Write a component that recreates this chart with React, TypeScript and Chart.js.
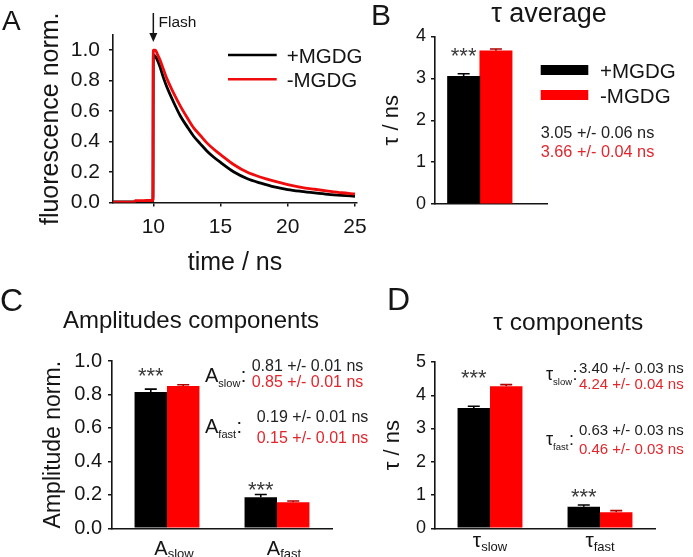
import React, { useEffect, useRef } from 'react';
import { Chart, registerables } from 'chart.js';

Chart.register(...registerables);

const FONT = '"Liberation Sans", Arial, Helvetica, sans-serif';
const INK = '#151515';
const BAR_RED = '#ff0000';
const LINE_RED = '#f00c0c';
const TEXT_RED = '#e2262c';
const ERR_RED = '#b00000';

// ---------- Panel A : fluorescence decay traces ----------
const seriesNames = ['+MGDG', '-MGDG'];
const decayTime = [7, 8, 8.6, 8.65, 9.0, 9.5, 9.97, 10.0, 10.15, 10.3, 10.5, 10.75, 11, 11.5, 12, 12.5, 13, 13.5, 14, 14.5, 15, 16, 17, 18, 19, 20, 21, 22, 23, 24, 25];
const decayPlus = [0.004, 0.004, 0.004, 0.004, 0.005, 0.005, 0.006, 0.97, 0.96, 0.935, 0.89, 0.82, 0.76, 0.66, 0.57, 0.5, 0.435, 0.385, 0.337, 0.297, 0.263, 0.2, 0.156, 0.127, 0.102, 0.085, 0.073, 0.063, 0.054, 0.047, 0.041];
const decayMinus = [0.002, 0.002, 0.002, 0.012, 0.012, 0.013, 0.013, 1.0, 1.0, 0.975, 0.935, 0.875, 0.815, 0.72, 0.635, 0.56, 0.49, 0.44, 0.39, 0.35, 0.315, 0.248, 0.198, 0.166, 0.14, 0.118, 0.1, 0.087, 0.075, 0.064, 0.056];
const flashTime = 10;
const aYTicks = [0, 0.2, 0.4, 0.6, 0.8, 1.0];
const aXTicks = [10, 15, 20, 25];

// ---------- Panel B : average lifetime ----------
const avgPlus = [3.05];
const avgMinus = [3.66];
const avgErrPlus = [0.06];
const avgErrMinus = [0.04];
const avgStars = [3.68];
const avgNotes = ['3.05 +/- 0.06 ns', '3.66 +/- 0.04 ns'];
const bYTicks = [0, 1, 2, 3, 4];

// ---------- Panel C : amplitudes ----------
const compKeys = ['slow', 'fast'];
const ampPlus = [0.815, 0.185];
const ampMinus = [0.85, 0.155];
const ampErrPlus = [0.017, 0.017];
const ampErrMinus = [0.008, 0.008];
const ampStars = [0.943, 0.265];
const ampNotesPlus = ['0.81 +/- 0.01 ns', '0.19 +/- 0.01 ns'];
const ampNotesMinus = ['0.85 +/- 0.01 ns', '0.15 +/- 0.01 ns'];
const cYTicks = [0, 0.2, 0.4, 0.6, 0.8, 1.0];

// ---------- Panel D : lifetimes ----------
const tauPlus = [3.62, 0.65];
const tauMinus = [4.27, 0.48];
const tauErrPlus = [0.05, 0.05];
const tauErrMinus = [0.05, 0.05];
const tauStars = [4.68, 1.106];
const tauNotesPlus = ['3.40 +/- 0.03 ns', '0.63 +/- 0.03 ns'];
const tauNotesMinus = ['4.24 +/- 0.04 ns', '0.46 +/- 0.03 ns'];
const dYTicks = [0, 1, 2, 3, 4, 5];

const W = 693;
const H = 557;
const f = (s: number) => `${s}px ${FONT}`;

function text(ctx: CanvasRenderingContext2D, s: string, x: number, y: number, size: number, color = INK, align: CanvasTextAlign = 'left') {
  ctx.save();
  ctx.font = f(size);
  ctx.fillStyle = color;
  ctx.textAlign = align;
  ctx.textBaseline = 'alphabetic';
  ctx.fillText(s, x, y);
  const w = ctx.measureText(s).width;
  ctx.restore();
  return w;
}

function subText(ctx: CanvasRenderingContext2D, main: string, sub: string, x: number, y: number, mainSize: number, subSize: number, drop: number, align: 'left' | 'center' = 'left', colon = false) {
  ctx.save();
  ctx.font = f(mainSize);
  const wm = ctx.measureText(main).width;
  ctx.font = f(subSize);
  const ws = ctx.measureText(sub).width;
  ctx.restore();
  const x0 = align === 'center' ? x - (wm + ws) / 2 : x;
  text(ctx, main, x0, y, mainSize);
  text(ctx, sub, x0 + wm, y + drop, subSize);
  if (colon) text(ctx, ':', x0 + wm + ws + 0.5, y, mainSize);
  return x0 + wm + ws;
}

function stars(ctx: CanvasRenderingContext2D, x: number, yCenter: number, size = 22) {
  text(ctx, '***', x, yCenter + size * 0.58, size, '#3a3a3a', 'center');
}

function errorBars(chart: any, values: number[][], errs: number[][], colors: string[]) {
  const ctx = chart.ctx;
  const ys = chart.scales.y;
  values.forEach((vals, di) => {
    const meta = chart.getDatasetMeta(di);
    vals.forEach((v, j) => {
      const bar = meta.data[j];
      if (!bar) return;
      const base = ys.getPixelForValue(v);
      const top = ys.getPixelForValue(v + errs[di][j]);
      ctx.save();
      ctx.strokeStyle = colors[di];
      ctx.lineWidth = 1.6;
      ctx.beginPath();
      ctx.moveTo(bar.x, base);
      ctx.lineTo(bar.x, top);
      ctx.moveTo(bar.x - 6, top);
      ctx.lineTo(bar.x + 6, top);
      ctx.stroke();
      ctx.restore();
    });
  });
}

function yAxis(o: any) {
  return {
    min: o.min,
    max: o.max,
    afterBuildTicks: (s: any) => { s.ticks = o.ticks.map((v: number) => ({ value: v })); },
    afterFit: (s: any) => { s.width = o.width; },
    ticks: {
      font: { family: FONT, size: o.tickFont },
      color: INK,
      padding: o.tickPad,
      autoSkip: false,
      callback: (v: any) => Number(v).toFixed(o.decimals),
    },
    grid: { display: true, drawOnChartArea: false, drawTicks: true, tickLength: 4, color: INK, lineWidth: 1.5 },
    border: { display: true, color: INK, width: 1.6 },
    title: { display: true, text: o.title, font: { family: FONT, size: o.titleFont }, color: INK, padding: 0 },
  };
}

function flatX(extra: any = {}) {
  return {
    afterFit: (s: any) => { s.height = 0; },
    ticks: { display: false },
    grid: { display: false },
    border: { display: true, color: INK, width: 1.6 },
    ...extra,
  };
}

const baseOpts = {
  responsive: false,
  animation: false as const,
  devicePixelRatio: 1,
  events: [] as any[],
};

function configA(): any {
  return {
    type: 'line',
    data: {
      datasets: [
        {
          label: seriesNames[0],
          data: decayTime.map((t, i) => ({ x: t, y: decayPlus[i] })),
          borderColor: '#000',
          borderWidth: 2.8,
          pointRadius: 0,
          cubicInterpolationMode: 'monotone',
          order: 1,
        },
        {
          label: seriesNames[1],
          data: decayTime.map((t, i) => ({ x: t, y: decayMinus[i] })),
          borderColor: LINE_RED,
          borderWidth: 2.8,
          pointRadius: 0,
          cubicInterpolationMode: 'monotone',
          order: 0,
        },
      ],
    },
    options: {
      ...baseOpts,
      layout: { padding: { left: 36, top: 35, right: W - 357, bottom: 279 } },
      plugins: { legend: { display: false }, tooltip: { enabled: false } },
      scales: {
        x: {
          type: 'linear',
          min: 7,
          max: 25.15,
          afterBuildTicks: (s: any) => { s.ticks = aXTicks.map((v) => ({ value: v })); },
          afterFit: (s: any) => { s.height = 75.5; },
          ticks: { font: { family: FONT, size: 21 }, color: INK, padding: 8, maxRotation: 0, autoSkip: false, callback: (v: any) => String(v) },
          grid: { display: true, drawOnChartArea: false, drawTicks: true, tickLength: 4, color: INK, lineWidth: 1.5 },
          border: { display: true, color: INK, width: 1.6 },
          title: { display: true, text: 'time / ns', font: { family: FONT, size: 25 }, color: INK, padding: 0 },
        },
        y: yAxis({ min: 0, max: 1.1, ticks: aYTicks, width: 77, tickFont: 21, tickPad: 9, decimals: 1, title: 'fluorescence norm.', titleFont: 25 }),
      },
    },
    plugins: [
      {
        id: 'panelA',
        afterDraw(chart: any) {
          const ctx = chart.ctx;
          text(ctx, 'A', 2, 30, 28);
          const fx = chart.scales.x.getPixelForValue(flashTime);
          ctx.save();
          ctx.strokeStyle = INK;
          ctx.fillStyle = INK;
          ctx.lineWidth = 1.5;
          ctx.beginPath();
          ctx.moveTo(fx, 13);
          ctx.lineTo(fx, 36);
          ctx.stroke();
          ctx.beginPath();
          ctx.moveTo(fx - 4, 33);
          ctx.lineTo(fx + 4, 33);
          ctx.lineTo(fx, 42);
          ctx.closePath();
          ctx.fill();
          ctx.lineWidth = 2.6;
          ctx.strokeStyle = '#000';
          ctx.beginPath();
          ctx.moveTo(228, 55);
          ctx.lineTo(276.7, 55);
          ctx.stroke();
          ctx.strokeStyle = LINE_RED;
          ctx.beginPath();
          ctx.moveTo(228, 79.3);
          ctx.lineTo(276.7, 79.3);
          ctx.stroke();
          ctx.restore();
          text(ctx, 'Flash', 158.5, 27.3, 15.5);
          text(ctx, seriesNames[0], 286.7, 63.3, 20.5);
          text(ctx, seriesNames[1], 286.7, 86.7, 20.5);
        },
      },
    ],
  };
}

function configB(): any {
  return {
    type: 'bar',
    data: {
      datasets: [
        { label: seriesNames[0], data: avgPlus.map((v, i) => ({ x: i, y: v })), backgroundColor: '#000', barThickness: 32.3 },
        { label: seriesNames[1], data: avgMinus.map((v, i) => ({ x: i, y: v })), backgroundColor: BAR_RED, barThickness: 32.3 },
      ],
    },
    options: {
      ...baseOpts,
      layout: { padding: { left: 378.8, top: 36.5, right: W - 547, bottom: H - 204 } },
      plugins: { legend: { display: false }, tooltip: { enabled: false } },
      scales: {
        x: flatX({ type: 'linear', min: -0.4, max: 0.6, offset: false }),
        y: yAxis({ min: 0, max: 4, ticks: bYTicks, width: 435 - 378.8, tickFont: 18, tickPad: 5, decimals: 0, title: 'τ / ns', titleFont: 22 }),
      },
    },
    plugins: [
      {
        id: 'panelB',
        afterDatasetsDraw(chart: any) {
          errorBars(chart, [avgPlus, avgMinus], [avgErrPlus, avgErrMinus], ['#000', ERR_RED]);
        },
        afterDraw(chart: any) {
          const ctx = chart.ctx;
          const black = chart.getDatasetMeta(0).data[0];
          stars(ctx, black.x, chart.scales.y.getPixelForValue(avgStars[0]));
          text(ctx, 'B', 371, 25, 30);
          text(ctx, 'τ average', 549, 21.7, 27, INK, 'center');
          ctx.save();
          ctx.fillStyle = '#000';
          ctx.fillRect(540.7, 65, 47.6, 10);
          ctx.fillStyle = BAR_RED;
          ctx.fillRect(540.7, 90, 47.6, 10);
          ctx.restore();
          text(ctx, seriesNames[0], 600, 78, 20.5);
          text(ctx, seriesNames[1], 600, 103.3, 20.5);
          text(ctx, avgNotes[0], 540.7, 137.5, 16.3, '#222');
          text(ctx, avgNotes[1], 540.7, 156.5, 16.3, TEXT_RED);
        },
      },
    ],
  };
}

function configC(): any {
  return {
    type: 'bar',
    data: {
      labels: compKeys,
      datasets: [
        { label: seriesNames[0], data: ampPlus, backgroundColor: '#000', categoryPercentage: 0.59, barPercentage: 1.0 },
        { label: seriesNames[1], data: ampMinus, backgroundColor: BAR_RED, categoryPercentage: 0.59, barPercentage: 1.0 },
      ],
    },
    options: {
      ...baseOpts,
      layout: { padding: { left: 40.2, top: 361, right: W - 332, bottom: H - 528.3 } },
      plugins: { legend: { display: false }, tooltip: { enabled: false } },
      scales: {
        x: flatX(),
        y: yAxis({ min: 0, max: 1.0, ticks: cYTicks, width: 112 - 40.2, tickFont: 20, tickPad: 6, decimals: 1, title: 'Amplitude norm.', titleFont: 23 }),
      },
    },
    plugins: [
      {
        id: 'panelC',
        afterDatasetsDraw(chart: any) {
          errorBars(chart, [ampPlus, ampMinus], [ampErrPlus, ampErrMinus], ['#000', ERR_RED]);
        },
        afterDraw(chart: any) {
          const ctx = chart.ctx;
          const ys = chart.scales.y;
          const xs = chart.scales.x;
          const blackMeta = chart.getDatasetMeta(0);
          ampStars.forEach((lvl, i) => stars(ctx, blackMeta.data[i].x, ys.getPixelForValue(lvl)));
          compKeys.forEach((k, i) => subText(ctx, 'A', k, xs.getPixelForValue(i) + 7, 555, 20, 13, 3, 'center'));
          text(ctx, 'C', 0, 311, 32);
          text(ctx, 'Amplitudes components', 191, 328.3, 24, INK, 'center');
          // annotations
          subText(ctx, 'A', compKeys[0], 205, 381.7, 20, 11, 5, 'left', true);
          subText(ctx, 'A', compKeys[1], 205, 433.3, 20, 11, 5, 'left', true);
          text(ctx, ampNotesPlus[0], 251.7, 371, 16, '#222');
          text(ctx, ampNotesMinus[0], 251.7, 387, 16, TEXT_RED);
          text(ctx, ampNotesPlus[1], 256.7, 421.7, 16, '#222');
          text(ctx, ampNotesMinus[1], 256.7, 442.5, 16, TEXT_RED);
        },
      },
    ],
  };
}

function configD(): any {
  return {
    type: 'bar',
    data: {
      labels: compKeys,
      datasets: [
        { label: seriesNames[0], data: tauPlus, backgroundColor: '#000', categoryPercentage: 0.59, barPercentage: 1.0 },
        { label: seriesNames[1], data: tauMinus, backgroundColor: BAR_RED, categoryPercentage: 0.59, barPercentage: 1.0 },
      ],
    },
    options: {
      ...baseOpts,
      layout: { padding: { left: 379.8, top: 362, right: W - 655, bottom: H - 528.3 } },
      plugins: { legend: { display: false }, tooltip: { enabled: false } },
      scales: {
        x: flatX(),
        y: yAxis({ min: 0, max: 5, ticks: dYTicks, width: 435 - 379.8, tickFont: 18, tickPad: 5, decimals: 0, title: 'τ / ns', titleFont: 22 }),
      },
    },
    plugins: [
      {
        id: 'panelD',
        afterDatasetsDraw(chart: any) {
          errorBars(chart, [tauPlus, tauMinus], [tauErrPlus, tauErrMinus], ['#000', ERR_RED]);
        },
        afterDraw(chart: any) {
          const ctx = chart.ctx;
          const ys = chart.scales.y;
          const xs = chart.scales.x;
          const blackMeta = chart.getDatasetMeta(0);
          tauStars.forEach((lvl, i) => stars(ctx, blackMeta.data[i].x, ys.getPixelForValue(lvl)));
          compKeys.forEach((k, i) => subText(ctx, 'τ', k, xs.getPixelForValue(i), 547, 21, 13, 4, 'center'));
          text(ctx, 'D', 387, 310, 32);
          text(ctx, 'τ components', 568.3, 330, 24.5, INK, 'center');
          subText(ctx, 'τ', compKeys[0], 546, 380, 18, 9.5, 5, 'left', true);
          subText(ctx, 'τ', compKeys[1], 546, 445, 18, 9.5, 5, 'left', true);
          text(ctx, tauNotesPlus[0], 579, 373.3, 15, '#222');
          text(ctx, tauNotesMinus[0], 579, 389.3, 15, TEXT_RED);
          text(ctx, tauNotesPlus[1], 579, 435, 15, '#222');
          text(ctx, tauNotesMinus[1], 579, 454, 15, TEXT_RED);
        },
      },
    ],
  };
}

export default function App() {
  const refA = useRef<HTMLCanvasElement | null>(null);
  const refB = useRef<HTMLCanvasElement | null>(null);
  const refC = useRef<HTMLCanvasElement | null>(null);
  const refD = useRef<HTMLCanvasElement | null>(null);

  useEffect(() => {
    const charts = [
      new Chart(refA.current as HTMLCanvasElement, configA()),
      new Chart(refB.current as HTMLCanvasElement, configB()),
      new Chart(refC.current as HTMLCanvasElement, configC()),
      new Chart(refD.current as HTMLCanvasElement, configD()),
    ];
    return () => charts.forEach((c) => c.destroy());
  }, []);

  const cs: React.CSSProperties = { position: 'absolute', left: 0, top: 0, width: W, height: H };
  return (
    <div style={{ position: 'fixed', left: 0, top: 0, width: W, height: H, background: '#fff', overflow: 'hidden' }}>
      <canvas ref={refA} width={W} height={H} style={cs} />
      <canvas ref={refB} width={W} height={H} style={cs} />
      <canvas ref={refC} width={W} height={H} style={cs} />
      <canvas ref={refD} width={W} height={H} style={cs} />
    </div>
  );
}
